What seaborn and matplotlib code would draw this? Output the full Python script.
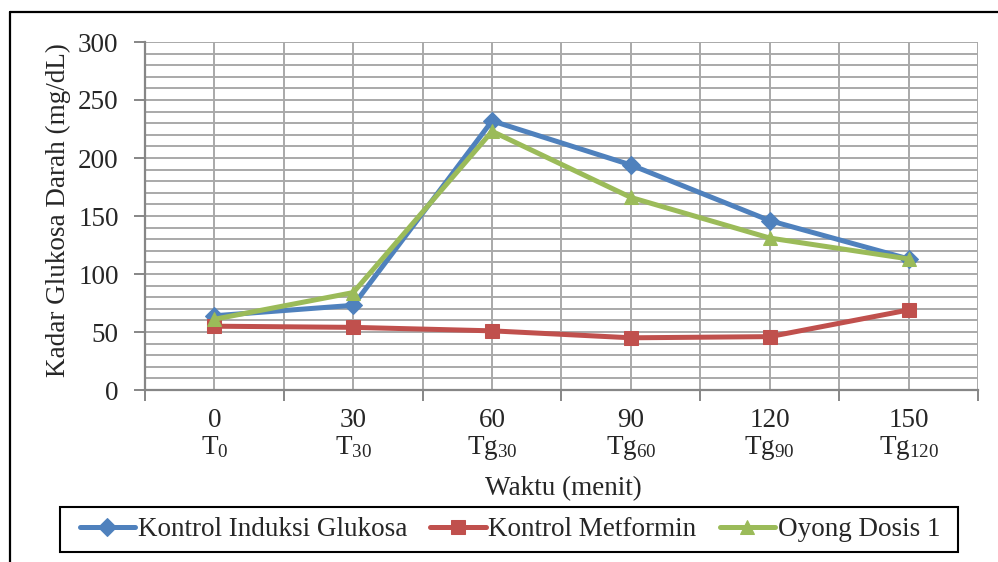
import numpy as np
import pandas as pd
import matplotlib
matplotlib.use("Agg")
import matplotlib.pyplot as plt
from matplotlib.lines import Line2D
from matplotlib.patches import Rectangle
from matplotlib.ticker import MultipleLocator, FixedLocator
import seaborn as sns

# Data
waktu = ["0", "30", "60", "90", "120", "150"]
titik = ["T$_0$", "T$_{30}$", "Tg$_{30}$", "Tg$_{60}$", "Tg$_{90}$", "Tg$_{120}$"]
induksi_glukosa = [64, 73, 232, 194, 146, 113]
metformin = [55, 54, 51, 45, 46, 69]
oyong_dosis1 = [61, 84, 223, 166, 131, 113]

series = [
    ("Kontrol Induksi Glukosa", induksi_glukosa, "#4F81BD", "D"),
    ("Kontrol Metformin", metformin, "#C0504D", "s"),
    ("Oyong Dosis 1", oyong_dosis1, "#9BBB59", "^"),
]

FS = 19.5

sns.set_theme(style="white")
plt.rcParams["font.family"] = ["Liberation Serif", "DejaVu Serif"]
plt.rcParams["mathtext.fontset"] = "custom"
plt.rcParams["mathtext.rm"] = "Liberation Serif"
plt.rcParams["mathtext.it"] = "Liberation Serif:italic"
plt.rcParams["mathtext.default"] = "regular"

W, H = 998, 562
fig = plt.figure(figsize=(W / 100, H / 100), dpi=100)
fig.patch.set_facecolor("white")
ax = fig.add_axes([145 / W, 1 - 390 / H, (978 - 145) / W, (390 - 42) / H])
ax.set_facecolor("white")

pos = list(range(len(waktu)))
for nama, nilai, warna, mk in series:
    df = pd.DataFrame({"posisi": pos, "kadar": nilai})
    sns.lineplot(data=df, x="posisi", y="kadar", ax=ax, color=warna,
                 linewidth=3.6, marker=mk, markersize=10 if mk != "D" else 9,
                 markeredgecolor=warna, label=nama, zorder=3)

ax.set_xlim(-0.5, len(waktu) - 0.5)
ax.set_ylim(0, 300)

# y axis: labels every 50, grid every 10
ax.yaxis.set_major_locator(MultipleLocator(50))
ax.yaxis.set_minor_locator(MultipleLocator(10))
# x axis: labels at category centers, tick marks at category boundaries
ax.xaxis.set_major_locator(FixedLocator(pos))
ax.xaxis.set_minor_locator(FixedLocator(np.arange(-0.5, len(waktu), 1.0)))
ax.set_xticklabels([f"{w}\n{t}" for w, t in zip(waktu, titik)])

grid_c = "#a9a9a9"
ax.grid(which="both", axis="both", color=grid_c, linewidth=1.4, zorder=0)
ax.set_axisbelow(True)

ax.tick_params(axis="y", which="major", length=8, width=1.4, color="#868686",
               labelsize=FS, pad=11, left=True)
ax.tick_params(axis="y", which="minor", length=0)
ax.tick_params(axis="x", which="major", length=0, labelsize=FS, pad=13)
ax.tick_params(axis="x", which="minor", length=8, width=1.4, color="#868686",
               bottom=True)
for lbl in ax.get_xticklabels():
    lbl.set_linespacing(1.05)

for s in ["top", "right"]:
    ax.spines[s].set_visible(False)
for s in ["left", "bottom"]:
    ax.spines[s].set_color("#868686")
    ax.spines[s].set_linewidth(1.6)

ax.set_xlabel("")
ax.set_ylabel("")
fig.text(563 / W, 1 - 489 / H, "Waktu (menit)", ha="center", va="center", fontsize=FS)
fig.text(58 / W, 1 - 210 / H, "Kadar Glukosa Darah (mg/dL)", ha="center", va="center",
         rotation=90, fontsize=FS)

# legend under the plot area, inside a plain rectangular box
handles, labels = ax.get_legend_handles_labels()
ax.get_legend().remove()
fig.legend(handles, labels, loc="center", bbox_to_anchor=(510 / W, 1 - 529.5 / H),
           ncol=3, fontsize=FS, frameon=False,
           handlelength=2.05, handletextpad=0.1, columnspacing=0.85,
           borderpad=0, borderaxespad=0)
fig.add_artist(Rectangle((60 / W, 1 - 552 / H), (958 - 60) / W, (552 - 507) / H,
                         transform=fig.transFigure, fill=False,
                         edgecolor="black", linewidth=1.5))

# chart border (left and top edges visible)
fig.add_artist(Line2D([10 / W, 10 / W], [0, 1 - 12 / H], transform=fig.transFigure,
                      color="black", linewidth=1.6))
fig.add_artist(Line2D([10 / W, 1], [1 - 12 / H, 1 - 12 / H], transform=fig.transFigure,
                      color="black", linewidth=1.6))

fig.savefig("out.png", dpi=100)
